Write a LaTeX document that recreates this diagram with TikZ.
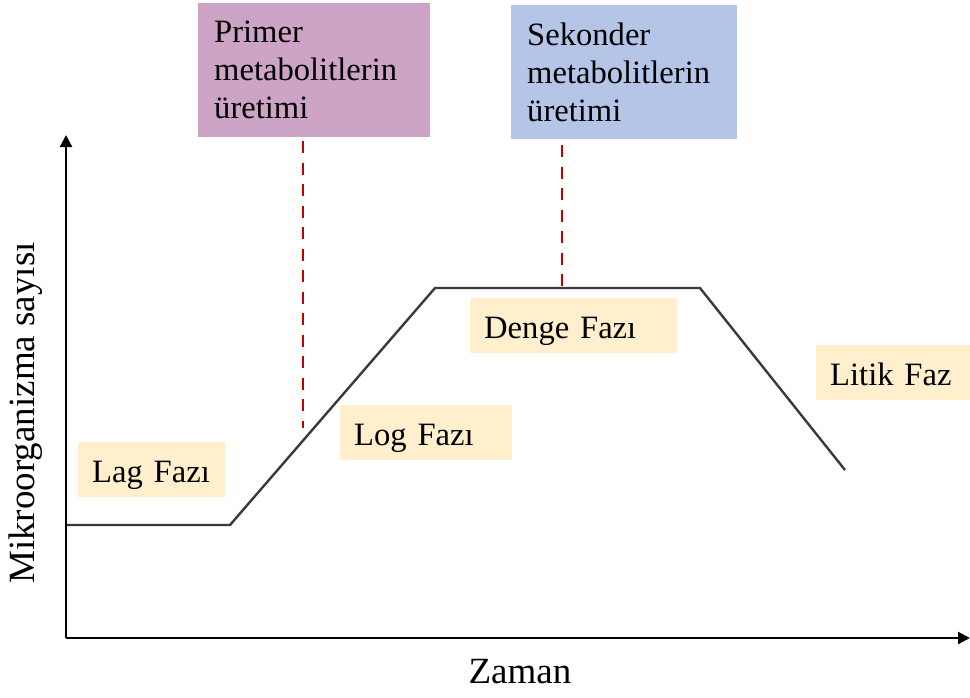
\documentclass[tikz,border=0pt]{standalone}
\usepackage{fontspec}
\setmainfont{Liberation Serif}
\usetikzlibrary{arrows.meta}

\definecolor{primerpink}{HTML}{CDA4C6}
\definecolor{sekonderblue}{HTML}{B4C5E8}
\definecolor{phasecream}{HTML}{FFEFCC}
\definecolor{markerred}{HTML}{C00000}
\definecolor{curvegray}{HTML}{3A3A3A}

\begin{document}
\begin{tikzpicture}[
  x = 1pt, y = -1pt,
  phase/.style = {fill=phasecream, anchor=north west, inner xsep=14pt, inner ysep=0pt,
                  text height=40pt, text depth=15pt, align=left,
                  font=\fontsize{32.6}{38}\selectfont},
  metabox/.style = {anchor=north west, inner xsep=16pt, inner ysep=0pt,
                    minimum height=134pt, align=left,
                    font=\fontsize{32.6}{38}\selectfont},
  marker/.style = {draw=markerred, line width=2.8pt, dash pattern=on 12pt off 9.5pt},
  growth/.style = {draw=curvegray, line width=2.4pt, line join=miter},
  axis/.style = {draw=black, line width=2.2pt, -{Triangle[width=12pt,length=12pt]}},
  axislabel/.style = {font=\fontsize{37}{44}\selectfont},
  ]
  \useasboundingbox (0,0) rectangle (970,697);

  % metabolite boxes
  \node[metabox, fill=primerpink, text width=200pt] (primer) at (198,3)
    {Primer\\metabolitlerin\\üretimi};
  \node[metabox, fill=sekonderblue, text width=194pt] (sekonder) at (511,5)
    {Sekonder\\metabolitlerin\\üretimi};

  % phase labels
  \node[phase, text width=119pt] (lag) at (78,442) {Lag Fazı};
  \node[phase, text width=144pt] (log) at (340,405) {Log Fazı};
  \node[phase, text width=179pt] (denge) at (470,298) {Denge Fazı};
  \node[phase, text width=132pt] (litik) at (816,345) {Litik Faz};

  % growth curve
  \coordinate (c0) at (67,525);
  \coordinate (c1) at (230,525);
  \coordinate (c2) at (435,288);
  \coordinate (c3) at (700,288);
  \coordinate (c4) at (845,470);
  \draw[growth] (c0) -- (c1) -- (c2) -- (c3) -- (c4);

  % markers
  \coordinate (m1top) at (303,141);
  \coordinate (m1end) at (303,428);
  \coordinate (m2top) at (562,145);
  \draw[marker] (m1top) -- (m1end);
  \draw[marker] (m2top) -- (m2top |- c3);

  % axes
  \coordinate (origin) at (66,638);
  \coordinate (ytip) at (66,135);
  \coordinate (xtip) at (970,638);
  \draw[axis] (origin) -- (ytip);
  \draw[axis] (origin) -- (xtip);
  \node[axislabel] (xlabel) at (520,672) {Zaman};
  \node[axislabel, rotate=90] (ylabel) at (26,413) {Mikroorganizma sayısı};
\end{tikzpicture}
\end{document}
